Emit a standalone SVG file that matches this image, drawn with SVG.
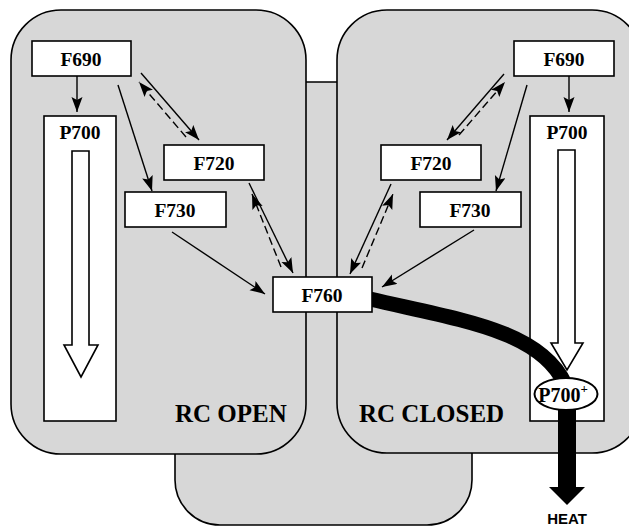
<svg xmlns="http://www.w3.org/2000/svg" width="629" height="526" viewBox="0 0 629 526">
<style>
.panel{fill:#d7d7d7;stroke:#000;stroke-width:1.6}
.box{fill:#fff;stroke:#000;stroke-width:1.6}
.lbl{font-family:"Liberation Serif","Times New Roman",serif;font-weight:bold;font-size:19.5px;fill:#000;text-anchor:middle}
.big{font-family:"Liberation Serif","Times New Roman",serif;font-weight:bold;font-size:25px;fill:#000}
.ln{stroke:#000;stroke-width:1.4;fill:none}
.dash{stroke:#000;stroke-width:1.4;fill:none;stroke-dasharray:8 4}
</style>
<defs>
<marker id="ah" markerUnits="userSpaceOnUse" markerWidth="16" markerHeight="12" refX="15" refY="5.5" orient="auto">
<path d="M0,0 L15,5.5 L0,11 L3,5.5 Z" fill="#000"/>
</marker>
</defs>
<g id="background">
<rect class="panel" x="175" y="82" width="297" height="443" rx="45"/>
<rect class="panel" x="11" y="10" width="295" height="444" rx="50"/>
<rect class="panel" x="337" y="10" width="305" height="443" rx="50"/>
<text class="big" x="175" y="422">RC OPEN</text>
<text class="big" x="359" y="422">RC CLOSED</text>
</g>
<g id="p700-left">
<rect class="box" x="44" y="116" width="72" height="305"/>
<text class="lbl" x="80" y="139">P700</text>
<path class="box" d="M72,151 H89 V345 H98 L81,377 L64,345 H72 Z"/>
</g>
<g id="p700-right">
<rect class="box" x="530" y="116" width="74" height="305"/>
<text class="lbl" x="567" y="139">P700</text>
<path class="box" d="M558,150 H575 V343 H583 L567,370 L551,343 H558 Z"/>
</g>
<g id="f690-left"><rect class="box" x="32" y="41" width="99" height="35"/><text class="lbl" x="81" y="66">F690</text></g>
<g id="f720-left"><rect class="box" x="164" y="145" width="100" height="35"/><text class="lbl" x="214" y="170">F720</text></g>
<g id="f730-left"><rect class="box" x="125" y="192" width="101" height="35"/><text class="lbl" x="175" y="217">F730</text></g>
<g id="f690-right"><rect class="box" x="514" y="41" width="100" height="35"/><text class="lbl" x="564" y="66">F690</text></g>
<g id="f720-right"><rect class="box" x="381" y="145" width="100" height="35"/><text class="lbl" x="431" y="170">F720</text></g>
<g id="f730-right"><rect class="box" x="420" y="192" width="101" height="35"/><text class="lbl" x="470" y="217">F730</text></g>
<g id="connectors">
<line class="ln" x1="77" y1="76" x2="77" y2="112" marker-end="url(#ah)"/>
<line class="ln" x1="569" y1="76" x2="569" y2="112" marker-end="url(#ah)"/>
<line class="ln" x1="118" y1="85" x2="152" y2="191" marker-end="url(#ah)"/>
<line class="ln" x1="141" y1="73" x2="199" y2="140" marker-end="url(#ah)"/>
<line class="dash" x1="186" y1="137" x2="139" y2="82" marker-end="url(#ah)"/>
<line class="ln" x1="249" y1="183" x2="293" y2="273" marker-end="url(#ah)"/>
<line class="dash" x1="281" y1="267" x2="252" y2="194" marker-end="url(#ah)"/>
<line class="ln" x1="172" y1="232" x2="265" y2="294" marker-end="url(#ah)"/>
<line class="ln" x1="527" y1="85" x2="496" y2="191" marker-end="url(#ah)"/>
<line class="ln" x1="504" y1="74" x2="447" y2="140" marker-end="url(#ah)"/>
<line class="dash" x1="459" y1="135" x2="505" y2="82" marker-end="url(#ah)"/>
<line class="ln" x1="391" y1="184" x2="350" y2="274" marker-end="url(#ah)"/>
<line class="dash" x1="362" y1="268" x2="393" y2="194" marker-end="url(#ah)"/>
<line class="ln" x1="474" y1="230" x2="382" y2="287" marker-end="url(#ah)"/>
<path d="M370,299 C460,320 540,330 565,384" fill="none" stroke="#000" stroke-width="15"/>
<path d="M558,405 H576 V487 H585 L567,505 L549,487 H558 Z" fill="#000"/>
</g>
<g id="f760"><rect class="box" x="273" y="277" width="99" height="35"/><text class="lbl" x="322" y="302">F760</text></g>
<g id="p700plus">
<ellipse cx="566" cy="394" rx="31.5" ry="16" fill="#fff" stroke="#000" stroke-width="2"/>
<text x="563" y="402" font-family="Liberation Serif, Times New Roman, serif" font-weight="bold" font-size="20" text-anchor="middle">P700<tspan font-size="13" dy="-9">+</tspan></text>
</g>
<g id="heat"><text x="567" y="524" font-family="Liberation Sans, Arial, sans-serif" font-weight="bold" font-size="15" text-anchor="middle">HEAT</text></g>
</svg>
